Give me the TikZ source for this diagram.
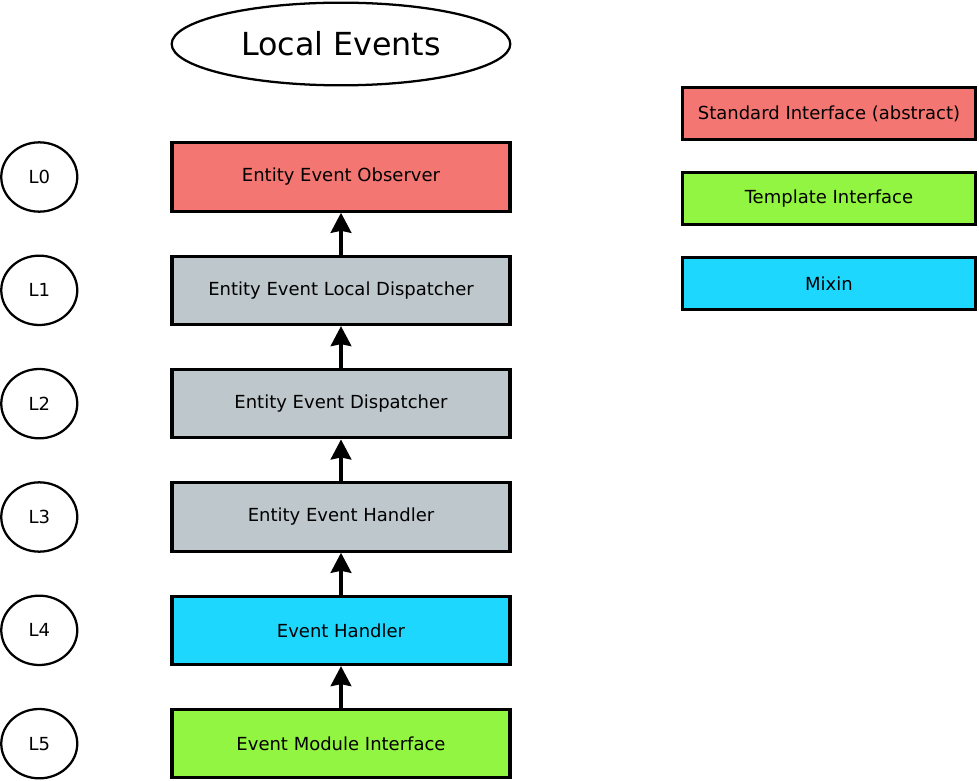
\documentclass[tikz,border=0pt]{standalone}
\usepackage{fontspec}
\setmainfont{DejaVu Sans}
\usepackage{tikz}
\usetikzlibrary{positioning,shapes.geometric,arrows.meta}

\definecolor{abstractred}{RGB}{244,118,114}
\definecolor{layergrey}{RGB}{190,199,204}
\definecolor{mixincyan}{RGB}{30,215,255}
\definecolor{templgreen}{RGB}{146,245,65}

\begin{document}
\begin{tikzpicture}[
  x=0.75pt, y=-0.75pt,
  node distance=31.3pt,
  layer/.style={rectangle, draw, line width=2.4pt, minimum width=253.5pt, minimum height=51.3pt, inner sep=0pt, font=\fontsize{13.5}{16}\selectfont},
  legend/.style={rectangle, draw, line width=2.4pt, minimum width=220pt, minimum height=39pt, inner sep=0pt, font=\fontsize{13.5}{16}\selectfont},
  lvl/.style={ellipse, draw, line width=1.7pt, minimum width=57pt, minimum height=52pt, inner sep=0pt, font=\fontsize{13.5}{16}\selectfont},
  flow/.style={-{Stealth[length=15pt,width=15.5pt,inset=1.5pt]}, line width=2.5pt}
]
\useasboundingbox (0,0) rectangle (979,781);

% Title
\node[ellipse, draw, line width=1.7pt, minimum width=254pt, minimum height=62pt, inner sep=0pt, font=\fontsize{23.8}{28}\selectfont] (title) at (341,44) {Local Events};

% Layer stack
\node[layer, fill=abstractred] (observer) at (341,177) {Entity Event Observer};
\node[layer, fill=layergrey, below=of observer] (localdisp) {Entity Event Local Dispatcher};
\node[layer, fill=layergrey, below=of localdisp] (dispatcher) {Entity Event Dispatcher};
\node[layer, fill=layergrey, below=of dispatcher] (enthandler) {Entity Event Handler};
\node[layer, fill=mixincyan, below=of enthandler] (handler) {Event Handler};
\node[layer, fill=templgreen, below=of handler] (module) {Event Module Interface};

% Level markers
\node[lvl, left=69pt of observer] (l0) {L0};
\node[lvl, left=69pt of localdisp] (l1) {L1};
\node[lvl, left=69pt of dispatcher] (l2) {L2};
\node[lvl, left=69pt of enthandler] (l3) {L3};
\node[lvl, left=69pt of handler] (l4) {L4};
\node[lvl, left=69pt of module] (l5) {L5};

% Legend
\node[legend, fill=abstractred] (stdif) at (829,113.5) {Standard Interface (abstract)};
\node[legend, fill=templgreen, below=22.5pt of stdif] (tmplif) {Template Interface};
\node[legend, fill=mixincyan, below=22.5pt of tmplif] (mixin) {Mixin};

\draw[flow] (module) -- (handler);
\draw[flow] (handler) -- (enthandler);
\draw[flow] (enthandler) -- (dispatcher);
\draw[flow] (dispatcher) -- (localdisp);
\draw[flow] (localdisp) -- (observer);
\end{tikzpicture}
\end{document}
